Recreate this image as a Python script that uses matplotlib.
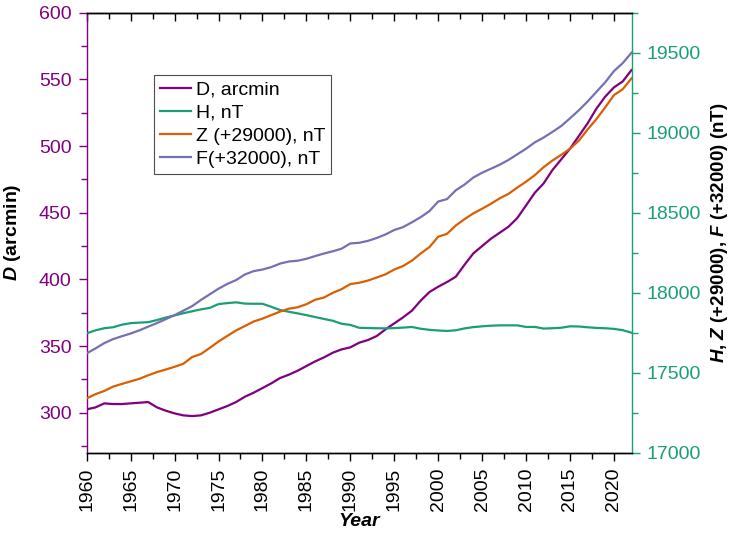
import matplotlib
matplotlib.use("Agg")
import matplotlib.pyplot as plt
from matplotlib.ticker import MultipleLocator

plt.rcParams['font.family'] = ['Liberation Sans', 'DejaVu Sans']
plt.rcParams['mathtext.fontset'] = 'custom'
plt.rcParams['mathtext.it'] = 'Liberation Sans:italic:bold'
plt.rcParams['mathtext.rm'] = 'Liberation Sans:bold'
plt.rcParams['mathtext.bf'] = 'Liberation Sans:bold'

years = list(range(1960, 2023))

# declination, arcmin
d_arcmin = [302.5, 304, 307, 306.5, 306.5, 307, 307.5, 308, 304, 301.5,
            299.5, 298, 297.5, 298, 300, 302.5, 305, 308, 312, 315,
            318.5, 322, 326, 328.5, 331.5, 335, 338.5, 341.5, 345, 347.5,
            349, 352.5, 354.5, 357.5, 362.5, 367, 371.5, 376.5, 384, 390.5,
            394.5, 398, 402, 411, 419.5, 425, 430.5, 435, 439.5, 446,
            455.5, 465, 472, 482, 490, 498, 507.5, 517, 528, 537,
            544, 548.5, 557]

# horizontal component, nT
h_nt = [17746, 17765, 17778, 17784, 17800, 17810, 17813, 17816, 17829, 17845,
        17858, 17872, 17884, 17896, 17905, 17929, 17935, 17940, 17932, 17931,
        17931, 17912, 17892, 17881, 17871, 17860, 17848, 17836, 17825, 17806,
        17799, 17781, 17779, 17778, 17777, 17779, 17782, 17786, 17775, 17768,
        17764, 17761, 17765, 17777, 17785, 17790, 17794, 17796, 17796, 17796,
        17786, 17786, 17776, 17778, 17781, 17790, 17789, 17784, 17780, 17778,
        17774, 17766, 17750]

# vertical component as plotted (add 29000 for real value), nT
z_shifted = [17340, 17366, 17386, 17413, 17430, 17446, 17462, 17484, 17504, 17520,
             17537, 17556, 17598, 17617, 17655, 17695, 17730, 17764, 17792, 17820,
             17838, 17860, 17882, 17900, 17909, 17928, 17956, 17970, 17999, 18022,
             18054, 18062, 18076, 18095, 18115, 18145, 18167, 18200, 18245, 18285,
             18350, 18368, 18420, 18460, 18496, 18525, 18556, 18590, 18618, 18657,
             18694, 18735, 18785, 18826, 18862, 18900, 18950, 19020, 19085, 19158,
             19235, 19272, 19340]

# total field as plotted (add 32000 for real value), nT
f_shifted = [17621, 17652, 17685, 17710, 17728, 17745, 17765, 17788, 17810, 17835,
             17860, 17888, 17916, 17955, 17990, 18025, 18055, 18079, 18114, 18135,
             18145, 18160, 18182, 18195, 18200, 18212, 18229, 18245, 18259, 18275,
             18308, 18312, 18324, 18342, 18364, 18392, 18410, 18440, 18472, 18510,
             18570, 18585, 18640, 18676, 18720, 18750, 18775, 18800, 18830, 18865,
             18900, 18940, 18970, 19005, 19042, 19090, 19140, 19195, 19255, 19315,
             19385, 19435, 19500]

purple = '#800080'
green = '#1b9e77'
orange = '#d95f02'
lavender = '#7570b3'

fig = plt.figure(figsize=(7.31, 5.44), dpi=100)
ax = fig.add_axes([0.1186, 0.1678, 0.7453, 0.8088])
ax2 = ax.twinx()

l1, = ax.plot(years, d_arcmin, color=purple, lw=1.6, label='D, arcmin')
l2, = ax2.plot(years, h_nt, color=green, lw=1.6, label='H, nT')
l3, = ax2.plot(years, z_shifted, color=orange, lw=1.6, label='Z (+29000), nT')
l4, = ax2.plot(years, f_shifted, color=lavender, lw=1.6, label='F(+32000), nT')

ax.set_xlim(1960, 2022)
ax.set_ylim(270, 600)
ax2.set_ylim(17000, 19750)

ax.xaxis.set_major_locator(MultipleLocator(5))
ax.xaxis.set_minor_locator(MultipleLocator(2.5))
ax.yaxis.set_major_locator(MultipleLocator(50))
ax.yaxis.set_minor_locator(MultipleLocator(25))
ax2.yaxis.set_major_locator(MultipleLocator(500))
ax2.yaxis.set_minor_locator(MultipleLocator(250))

ax.tick_params(axis='x', which='major', direction='out', length=6, width=1,
               labelsize=14, labelrotation=90, pad=5, top=False)
ax.tick_params(axis='x', which='minor', direction='out', length=4, width=1, top=False)
ax.tick_params(axis='y', which='major', direction='out', length=6, width=1,
               labelsize=14, pad=5, colors=purple)
ax.tick_params(axis='y', which='minor', direction='out', length=4, width=1, colors=purple)
ax2.tick_params(axis='y', which='major', direction='out', length=6, width=1,
                labelsize=14, pad=5, colors=green)
ax2.tick_params(axis='y', which='minor', direction='out', length=4, width=1, colors=green)

top = ax.secondary_xaxis('top')
top.xaxis.set_major_locator(MultipleLocator(5))
top.xaxis.set_minor_locator(MultipleLocator(2.5))
top.tick_params(which='major', direction='in', length=6, width=1, labeltop=False)
top.tick_params(which='minor', direction='in', length=4, width=1)

ax.spines['left'].set_color(purple)
ax.spines['right'].set_visible(False)
ax2.spines['left'].set_visible(False)
ax2.spines['right'].set_color(green)
for a in (ax, ax2):
    for s in a.spines.values():
        s.set_linewidth(1)

ax.set_xlabel('Year', fontsize=14, fontweight='bold', style='italic', labelpad=1)
ax.set_ylabel('$D$ (arcmin)', fontsize=14, fontweight='bold')
ax.yaxis.set_label_coords(-0.117, 0.5)
ax2.set_ylabel('$H$, $Z$ (+29000), $F$ (+32000) (nT)', fontsize=13.5, fontweight='bold',
               rotation=90)
ax2.yaxis.set_label_coords(1.143, 0.5)

leg = ax2.legend(handles=[l1, l2, l3, l4], loc='upper left',
                 bbox_to_anchor=(0.1235, 0.8584), borderaxespad=0,
                 fontsize=14, frameon=True, fancybox=False, framealpha=1,
                 edgecolor='0.3', handlelength=1.6, handletextpad=0.26,
                 borderpad=0.3, labelspacing=0.29)
leg.get_frame().set_linewidth(0.8)

fig.savefig('out.png', dpi=100)
